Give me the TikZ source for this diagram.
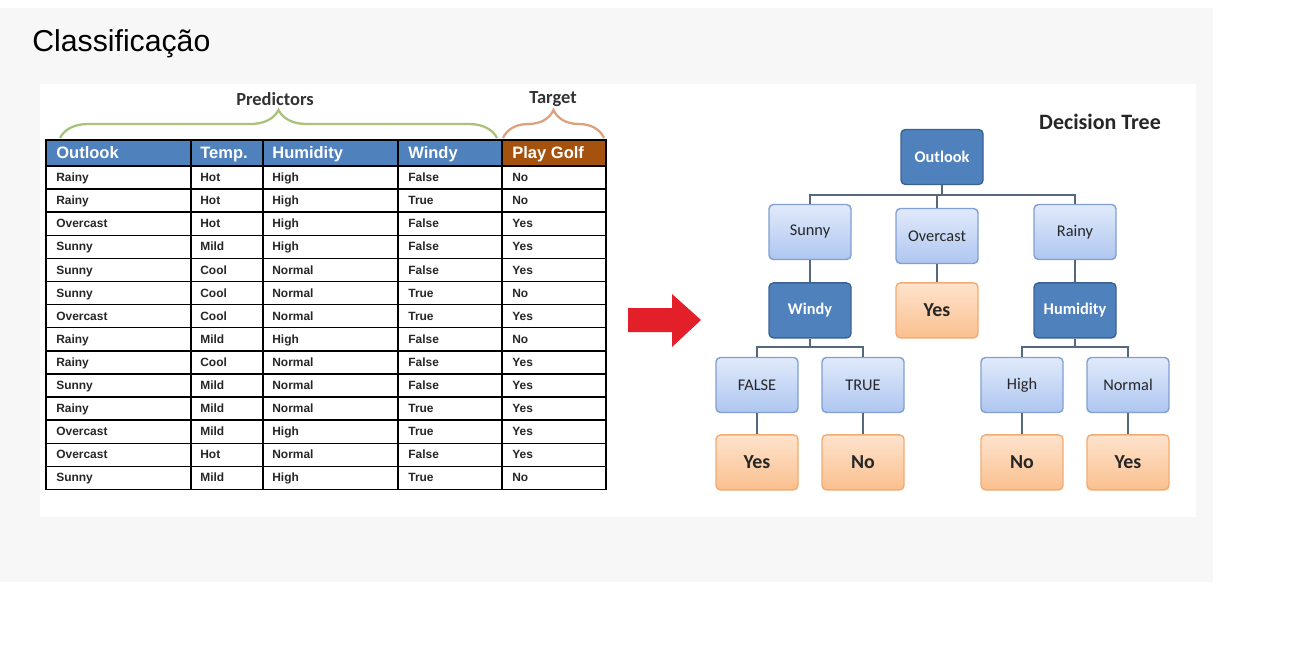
\documentclass[tikz,border=0pt]{standalone}
\usepackage{fontspec}
\setmainfont{Liberation Sans}
\newfontfamily\calfont{Carlito}
\usepackage{tikz}
\usetikzlibrary{positioning, decorations.pathreplacing}

\definecolor{slidegray}{HTML}{F7F7F7}
\definecolor{hdrblue}{HTML}{4F81BD}
\definecolor{hdrbrown}{HTML}{A5520F}
\definecolor{predgreen}{HTML}{A9C27A}
\definecolor{targorange}{HTML}{DDA27C}
\definecolor{arrowred}{HTML}{E3202A}
\definecolor{darkbox}{HTML}{4F81BD}
\definecolor{darkboxline}{HTML}{3A6395}
\definecolor{lightboxtop}{HTML}{E1EAFB}
\definecolor{lightboxbot}{HTML}{AEC6F0}
\definecolor{lightboxline}{HTML}{819FD0}
\definecolor{leaftop}{HTML}{FEE3CC}
\definecolor{leafbot}{HTML}{FAC08F}
\definecolor{leafline}{HTML}{F2AB73}
\definecolor{edgegray}{HTML}{56687D}

\begin{document}
\begin{tikzpicture}[
  x=0.02cm, y=-0.02cm,
  tbox/.style={rounded corners=2.5pt, minimum width=1.64cm, minimum height=1.1cm, align=center, inner sep=1pt, line width=0.8pt},
  decision/.style={tbox, fill=darkbox, draw=darkboxline, text=white, font=\calfont\bfseries\fontsize{9.3}{11}\selectfont},
  branch/.style={tbox, top color=lightboxtop, bottom color=lightboxbot, draw=lightboxline, text=black!85, font=\calfont\fontsize{9.3}{11}\selectfont},
  leaf/.style={tbox, top color=leaftop, bottom color=leafbot, draw=leafline, text=black!85, font=\calfont\bfseries\fontsize{11.3}{13}\selectfont},
  edge/.style={draw=edgegray, line width=0.9pt},
  hdr/.style={anchor=base west, text=white, font=\bfseries\fontsize{9.4}{11}\selectfont, inner sep=0pt},
  cell/.style={anchor=base west, text=black!85, font=\bfseries\fontsize{6.8}{8}\selectfont, inner sep=0pt},
  grp/.style={font=\calfont\bfseries\fontsize{10.5}{12}\selectfont, text=black!80},
  brc/.style={decorate, decoration={brace, amplitude=0.56cm}, line width=1.3pt}
]
\useasboundingbox (0,0) rectangle (1293,645);

% Slide background
\fill[slidegray] (0,8) rectangle (1213,582);
\fill[white] (40,84) rectangle (1196,517);
\node[anchor=base west, inner sep=0pt, font=\fontsize{17.2}{20}\selectfont] (title) at (32,52) {Classificação};

% Braces over the table
\draw[brc, predgreen] (60,138) -- (497,138);
\draw[brc, targorange] (503,138) -- (604,138);
\node[grp] (pred) at (275,99) {Predictors};
\node[grp] (targ) at (553,99) {Target};

% Table header
\fill[hdrblue] (46,140) rectangle (502,166);
\fill[hdrbrown] (502,140) rectangle (606,166);
\node[hdr] (h1) at (56,159) {Outlook};
\node[hdr] (h2) at (200,159) {Temp.};
\node[hdr] (h3) at (272,159) {Humidity};
\node[hdr] (h4) at (408,159) {Windy};
\node[hdr] (h5) at (512,159) {Play Golf};

% Table rows
\foreach \o/\t/\h/\w/\p [count=\r] in {
  Rainy/Hot/High/False/No,
  Rainy/Hot/High/True/No,
  Overcast/Hot/High/False/Yes,
  Sunny/Mild/High/False/Yes,
  Sunny/Cool/Normal/False/Yes,
  Sunny/Cool/Normal/True/No,
  Overcast/Cool/Normal/True/Yes,
  Rainy/Mild/High/False/No,
  Rainy/Cool/Normal/False/Yes,
  Sunny/Mild/Normal/False/Yes,
  Rainy/Mild/Normal/True/Yes,
  Overcast/Mild/High/True/Yes,
  Overcast/Hot/Normal/False/Yes,
  Sunny/Mild/High/True/No}{
  \node[cell] (o\r) at (56,{158.5+23.1*\r}) {\o};
  \node[cell] (t\r) at (200,{158.5+23.1*\r}) {\t};
  \node[cell] (u\r) at (272,{158.5+23.1*\r}) {\h};
  \node[cell] (w\r) at (408,{158.5+23.1*\r}) {\w};
  \node[cell] (p\r) at (512,{158.5+23.1*\r}) {\p};
}

% Grid
\foreach \k in {0,...,13}
  \draw[line width=0.8pt] (46,{166+23.1*\k}) -- (606,{166+23.1*\k});
\foreach \xx in {191,263,398,502}
  \draw[line width=0.8pt] (\xx,140) -- (\xx,489.4);
\draw[line width=1pt] (46,140) rectangle (606,489.4);

% Red arrow
\fill[arrowred] (628,308) -- (672,308) -- (672,294) -- (701,320) -- (672,347) -- (672,332) -- (628,332) -- cycle;

% Decision tree
\node[font=\calfont\bfseries\fontsize{12.5}{14}\selectfont, text=black!85] (dtree) at (1100,122) {Decision Tree};

\node[decision] (outlook) at (942,157) {Outlook};
\node[branch] (sunny) at (810,232) {Sunny};
\node[branch] (overcast) at (937,236) {Overcast};
\node[branch] (rainy) at (1075,232) {Rainy};

\node[decision, below=0.44cm of sunny] (windy) {Windy};
\node[leaf, below=0.36cm of overcast] (ovyes) {Yes};
\node[decision, below=0.44cm of rainy] (humid) {Humidity};

\node[branch] (wfalse) at (757,385) {FALSE};
\node[branch] (wtrue) at (863,385) {TRUE};
\node[branch] (hhigh) at (1022,385) {High};
\node[branch] (hnormal) at (1128,385) {Normal};

\node[leaf, below=0.42cm of wfalse] (fyes) {Yes};
\node[leaf, below=0.42cm of wtrue] (tno) {No};
\node[leaf, below=0.42cm of hhigh] (hno) {No};
\node[leaf, below=0.42cm of hnormal] (nyes) {Yes};

% Connectors
\coordinate (obar) at (942,195);
\coordinate (wbar) at (810,347);
\coordinate (hbar) at (1075,347);
\draw[edge] (outlook.south) -- (obar);
\draw[edge] (obar) -| (sunny.north);
\draw[edge] (obar) -| (overcast.north);
\draw[edge] (obar) -| (rainy.north);
\draw[edge] (sunny.south) -- (windy.north);
\draw[edge] (overcast.south) -- (ovyes.north);
\draw[edge] (rainy.south) -- (humid.north);
\draw[edge] (windy.south) -- (wbar);
\draw[edge] (wbar) -| (wfalse.north);
\draw[edge] (wbar) -| (wtrue.north);
\draw[edge] (humid.south) -- (hbar);
\draw[edge] (hbar) -| (hhigh.north);
\draw[edge] (hbar) -| (hnormal.north);
\draw[edge] (wfalse.south) -- (fyes.north);
\draw[edge] (wtrue.south) -- (tno.north);
\draw[edge] (hhigh.south) -- (hno.north);
\draw[edge] (hnormal.south) -- (nyes.north);

\end{tikzpicture}
\end{document}
